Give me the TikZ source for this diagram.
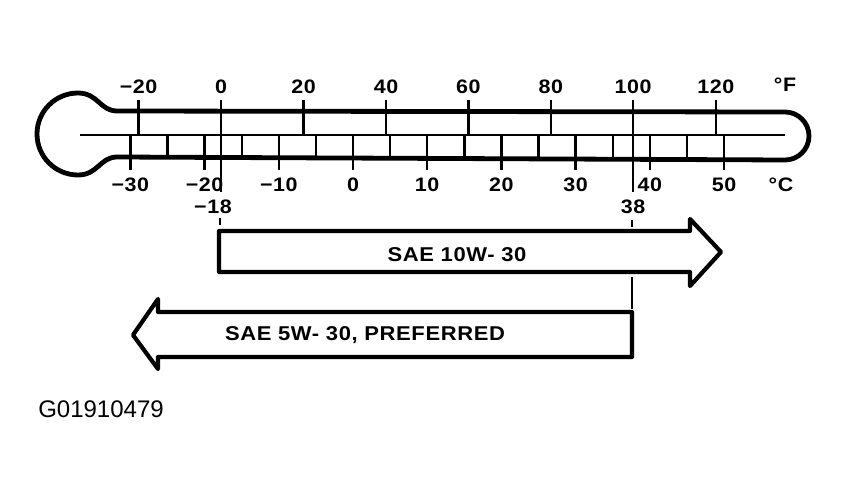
\documentclass[tikz,border=0pt]{standalone}
\usepackage{fontspec}
\setmainfont{Liberation Sans}
\newfontfamily\widesans[FakeStretch=1.1,LetterSpace=3]{Liberation Sans}
\begin{document}
\begin{tikzpicture}[x=1pt,y=-1pt,line join=round,
  scl/.style={font=\widesans\bfseries\fontsize{19.5}{19.5}\selectfont,inner sep=0pt},
  oil/.style={font=\widesans\bfseries\fontsize{20}{20}\selectfont,inner sep=0pt},
  band/.style={draw,line width=4.2pt,fill=white},
  tick/.style={line width=2.4pt}]
\useasboundingbox (0,0) rectangle (846,492);
% tube and bulb
\draw[line width=4.8pt] (117,111) -- (785,112) arc[start angle=270,end angle=450,radius=24] -- (117,157)
  .. controls (100,157) and (98,175) .. (78,175) arc[start angle=90,end angle=270,radius=41]
  .. controls (98,93) and (100,111) .. (117,111) -- cycle;
\draw[line width=2.6pt] (80,135) -- (785,135);
% celsius scale
\foreach \c in {-30,-20,...,50}{
  \draw[tick] ({353+7.42*\c},135) -- ++(0,35);
  \node[scl] (c\c) at ({353+7.42*\c},185) {\ifnum\c<0 −\fi\the\numexpr\ifnum\c<0 -\fi\c\relax};}
\foreach \c in {-25,-15,...,45}
  \draw[tick] ({353+7.42*\c},135) -- ++(0,22);
% fahrenheit scale
\foreach \f in {-20,20,40,60,80,120}{
  \draw[tick] ({353+7.42*(\f-32)/1.8},100) -- ++(0,35);
  \node[scl] (f\f) at ({353+7.42*(\f-32)/1.8},87) {\ifnum\f<0 −\fi\the\numexpr\ifnum\f<0 -\fi\f\relax};}
\node[scl] (f0) at (221,87) {0};
\node[scl] (f100) at (633,87) {100};
\node[scl] (degf) at (785,85) {°F};
\node[scl] (degc) at (781,185) {°C};
% limits
\coordinate (lo top) at (221,100);
\coordinate (lo bot) at (221,192);
\coordinate (hi top) at (633,100);
\coordinate (hi bot) at (633,192);
\draw[tick] (lo top) -- (lo bot);
\draw[tick] (hi top) -- (hi bot);
\node[scl] (lo) at (213,207) {−18};
\node[scl] (hi) at (633,207) {38};
\draw[line width=1.2pt] (220,218) -- (220,225);
\draw[line width=1.2pt] (632,220) -- (632,227);
% oil bands
\draw[band] (219,231) -- (690,231) -- (690,219) -- (721,252) -- (690,286) -- (690,272) -- (219,272) -- cycle;
\node[oil] (w10) at (457,255) {SAE 10W- 30};
\draw[band] (632,312) -- (158,312) -- (158,299) -- (133,335) -- (158,369) -- (158,357) -- (632,357) -- cycle;
\node[oil] (w5) at (365,335) {SAE 5W- 30, PREFERRED};
\coordinate (sep top) at (632,277);
\coordinate (sep bot) at (632,309);
\draw[line width=1.4pt] (sep top) -- (sep bot);
\node[font=\fontsize{24}{24}\selectfont,inner sep=0pt] (fig) at (101,409) {G01910479};
\end{tikzpicture}
\end{document}
